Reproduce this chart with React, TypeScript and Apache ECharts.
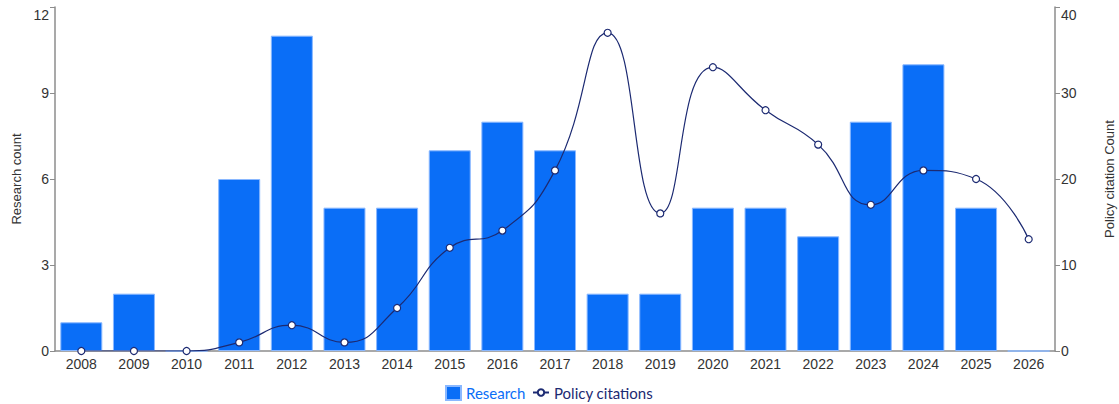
import React, { useEffect, useRef } from "react";
import * as echarts from "echarts";

const years = ["2008","2009","2010","2011","2012","2013","2014","2015","2016","2017","2018","2019","2020","2021","2022","2023","2024","2025","2026"];
const researchCounts = [1, 2, 0, 6, 11, 5, 5, 7, 8, 7, 2, 2, 5, 5, 4, 8, 10, 5, 0];
const policyCitations = [0, 0, 0, 1, 3, 1, 5, 12, 14, 21, 37, 16, 33, 28, 24, 17, 21, 20, 13];

const BAR_COLOR = "#0a6ef7";
const LINE_COLOR = "#1c2a72";
const TEXT = "#333333";
const AXIS = "#8c8c8c";

export default function App() {
  const ref = useRef<HTMLDivElement>(null);
  useEffect(() => {
    if (!ref.current) return;
    const chart = echarts.init(ref.current, null, { renderer: "svg" });
    const labelFont = { fontFamily: "Liberation Sans, Arial, sans-serif", fontSize: 14, color: TEXT };
    const legendText = { fontFamily: "Lato, sans-serif", fontSize: 15 };
    chart.setOption({
      animation: false,
      grid: { left: 55, right: 64, top: 7, bottom: 53, outerBoundsMode: "none", containLabel: false },
      legend: [
        {
          left: 440,
          top: 380,
          itemWidth: 15,
          itemHeight: 14,
          itemGap: 10,
          textStyle: legendText,
          data: [{ name: "Research", icon: "rect", textStyle: { color: BAR_COLOR } }],
        },
        {
          left: 527,
          top: 380,
          itemWidth: 16,
          itemHeight: 8,
          itemGap: 10,
          textStyle: legendText,
          data: [{ name: "Policy citations", textStyle: { color: LINE_COLOR } }],
        },
      ],
      xAxis: {
        type: "category",
        data: years,
        axisLine: { lineStyle: { color: AXIS, width: 1.5 } },
        axisTick: { alignWithLabel: true, length: 5, lineStyle: { color: AXIS } },
        axisLabel: { ...labelFont, margin: 6 },
      },
      yAxis: [
        {
          type: "value",
          min: 0,
          max: 12,
          interval: 3,
          name: "Research count",
          nameLocation: "middle",
          nameGap: 31,
          nameTextStyle: { fontFamily: "Liberation Sans, Arial, sans-serif", fontSize: 13, color: TEXT },
          axisLine: { show: true, lineStyle: { color: AXIS, width: 1.5 } },
          axisTick: { show: true, length: 5, lineStyle: { color: AXIS } },
          splitLine: { show: false },
          axisLabel: {
            ...labelFont,
            margin: 6,
            formatter: (v: number) => (v === 12 ? "{top|12}" : String(v)),
            rich: { top: { ...labelFont, padding: [16, 0, 0, 0] } },
          },
        },
        {
          type: "value",
          min: 0,
          max: 40,
          interval: 10,
          name: "Policy citation Count",
          nameLocation: "middle",
          nameGap: 48,
          nameRotate: 90,
          nameTextStyle: { fontFamily: "Liberation Sans, Arial, sans-serif", fontSize: 13, color: TEXT },
          axisLine: { show: true, lineStyle: { color: AXIS, width: 1.5 } },
          axisTick: { show: true, length: 5, lineStyle: { color: AXIS } },
          splitLine: { show: false },
          axisLabel: {
            ...labelFont,
            margin: 6,
            formatter: (v: number) => (v === 40 ? "{top|40}" : String(v)),
            rich: { top: { ...labelFont, padding: [16, 0, 0, 0] } },
          },
        },
      ],
      series: [
        {
          name: "Research",
          type: "bar",
          yAxisIndex: 0,
          data: researchCounts,
          barWidth: 42,
          itemStyle: { color: BAR_COLOR, borderColor: "#8ab8ff", borderWidth: 1 },
        },
        {
          name: "Policy citations",
          type: "line",
          yAxisIndex: 1,
          data: policyCitations,
          smooth: 0.5,
          symbol: "circle",
          symbolSize: 7,
          showAllSymbol: true,
          lineStyle: { color: LINE_COLOR, width: 1.2 },
          itemStyle: { color: "#ffffff", borderColor: LINE_COLOR, borderWidth: 1.2 },
          z: 3,
        },
      ],
    });
    return () => chart.dispose();
  }, []);
  return (
    <div
      ref={ref}
      style={{ position: "fixed", left: 0, top: 0, width: 1119, height: 404, background: "#fff" }}
    />
  );
}
